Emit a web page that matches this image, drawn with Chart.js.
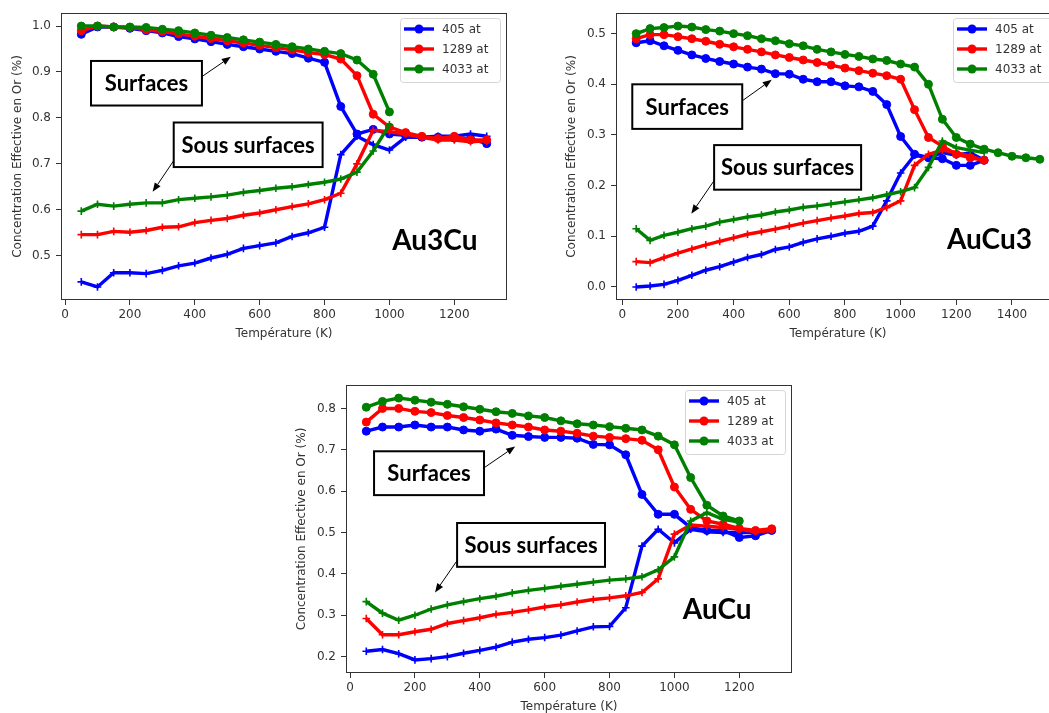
<!DOCTYPE html>
<html lang="fr">
<head>
<meta charset="UTF-8">
<title>Concentration effective en or</title>
<script src="https://cdn.jsdelivr.net/npm/chart.js"></script>
<style>
  html, body { margin: 0; padding: 0; background: #fff; }
  body { width: 1049px; height: 713px; overflow: hidden; position: relative; }
  canvas { position: absolute; }
</style>
</head>
<body>
<canvas id="au3cu" width="520" height="345" style="left:0;top:0"></canvas>
<canvas id="aucu3" width="530" height="345" style="left:540px;top:0"></canvas>
<canvas id="aucu" width="530" height="346" style="left:280px;top:372px"></canvas>

<script>
// temperatures (K), shared by every series; shorter series stop earlier
const T = [50, 100, 150, 200, 250, 300, 350, 400, 450, 500, 550, 600, 650, 700, 750,
           800, 850, 900, 950, 1000, 1050, 1100, 1150, 1200, 1250, 1300, 1350, 1400, 1450, 1500];

const sizes = ['405 at', '1289 at', '4033 at'];

// Au3Cu
const au3cuSurf405  = [0.982, 0.998, 0.998, 0.995, 0.990, 0.985, 0.977, 0.972, 0.966, 0.960, 0.955, 0.950, 0.945, 0.940, 0.930, 0.921, 0.825, 0.765, 0.775, 0.765, 0.762, 0.758, 0.758, 0.756, 0.755, 0.744];
const au3cuSub405   = [0.443, 0.432, 0.463, 0.463, 0.461, 0.468, 0.478, 0.484, 0.495, 0.503, 0.516, 0.522, 0.528, 0.542, 0.550, 0.562, 0.720, 0.760, 0.742, 0.730, 0.758, 0.758, 0.760, 0.760, 0.765, 0.760];
const au3cuSurf1289 = [0.990, 1.000, 0.998, 0.997, 0.992, 0.988, 0.983, 0.978, 0.973, 0.968, 0.963, 0.958, 0.953, 0.948, 0.942, 0.938, 0.928, 0.892, 0.808, 0.780, 0.768, 0.760, 0.755, 0.760, 0.752, 0.752];
const au3cuSub1289  = [0.546, 0.546, 0.553, 0.551, 0.555, 0.562, 0.563, 0.572, 0.577, 0.581, 0.588, 0.593, 0.600, 0.607, 0.613, 0.622, 0.636, 0.700, 0.773, 0.770, 0.765, 0.758, 0.752, 0.752, 0.748, 0.750];
const au3cuSurf4033 = [1.000, 1.000, 0.998, 0.998, 0.997, 0.993, 0.990, 0.985, 0.980, 0.975, 0.970, 0.965, 0.960, 0.955, 0.950, 0.945, 0.940, 0.926, 0.895, 0.813];
const au3cuSub4033  = [0.597, 0.612, 0.608, 0.612, 0.615, 0.615, 0.622, 0.625, 0.628, 0.632, 0.638, 0.642, 0.647, 0.650, 0.655, 0.660, 0.667, 0.682, 0.728, 0.785];

// AuCu3
const aucu3Surf405  = [0.482, 0.486, 0.476, 0.467, 0.458, 0.451, 0.445, 0.440, 0.434, 0.430, 0.421, 0.420, 0.410, 0.405, 0.405, 0.397, 0.395, 0.386, 0.360, 0.297, 0.262, 0.255, 0.253, 0.240, 0.240, 0.250];
const aucu3Sub405   = [0.000, 0.002, 0.005, 0.013, 0.023, 0.033, 0.040, 0.049, 0.058, 0.064, 0.074, 0.079, 0.088, 0.095, 0.100, 0.106, 0.110, 0.120, 0.170, 0.225, 0.260, 0.255, 0.265, 0.260, 0.265, 0.250];
const aucu3Surf1289 = [0.490, 0.498, 0.498, 0.494, 0.490, 0.485, 0.479, 0.474, 0.469, 0.464, 0.458, 0.453, 0.448, 0.443, 0.438, 0.432, 0.427, 0.422, 0.417, 0.410, 0.350, 0.295, 0.278, 0.262, 0.255, 0.250];
const aucu3Sub1289  = [0.050, 0.048, 0.058, 0.067, 0.075, 0.083, 0.090, 0.097, 0.104, 0.109, 0.114, 0.120, 0.126, 0.131, 0.136, 0.140, 0.145, 0.147, 0.157, 0.170, 0.240, 0.262, 0.270, 0.265, 0.258, 0.250];
const aucu3Surf4033 = [0.500, 0.510, 0.512, 0.515, 0.513, 0.508, 0.505, 0.500, 0.496, 0.490, 0.486, 0.480, 0.476, 0.469, 0.464, 0.459, 0.455, 0.450, 0.447, 0.440, 0.434, 0.400, 0.331, 0.295, 0.282, 0.272, 0.265, 0.258, 0.255, 0.252];
const aucu3Sub4033  = [0.115, 0.092, 0.102, 0.108, 0.115, 0.120, 0.128, 0.133, 0.138, 0.142, 0.148, 0.152, 0.157, 0.160, 0.164, 0.168, 0.172, 0.176, 0.182, 0.188, 0.196, 0.236, 0.288, 0.275, 0.270, 0.265];

// AuCu
const aucuSurf405  = [0.745, 0.755, 0.755, 0.760, 0.755, 0.755, 0.748, 0.745, 0.750, 0.735, 0.732, 0.730, 0.730, 0.728, 0.713, 0.712, 0.688, 0.592, 0.544, 0.544, 0.512, 0.505, 0.505, 0.488, 0.492, 0.505];
const aucuSub405   = [0.213, 0.217, 0.207, 0.192, 0.195, 0.200, 0.208, 0.215, 0.223, 0.235, 0.242, 0.246, 0.252, 0.262, 0.272, 0.273, 0.318, 0.467, 0.508, 0.475, 0.508, 0.502, 0.500, 0.500, 0.500, 0.505];
const aucuSurf1289 = [0.767, 0.800, 0.800, 0.793, 0.790, 0.783, 0.778, 0.772, 0.765, 0.760, 0.755, 0.748, 0.745, 0.740, 0.733, 0.730, 0.727, 0.723, 0.700, 0.610, 0.556, 0.528, 0.520, 0.510, 0.505, 0.509];
const aucuSub1289  = [0.292, 0.253, 0.253, 0.260, 0.266, 0.280, 0.287, 0.294, 0.302, 0.307, 0.313, 0.320, 0.325, 0.332, 0.338, 0.342, 0.347, 0.355, 0.388, 0.496, 0.518, 0.515, 0.512, 0.508, 0.502, 0.505];
const aucuSurf4033 = [0.803, 0.817, 0.825, 0.820, 0.815, 0.810, 0.804, 0.798, 0.792, 0.788, 0.782, 0.778, 0.770, 0.763, 0.760, 0.756, 0.752, 0.748, 0.733, 0.712, 0.633, 0.566, 0.540, 0.528];
const aucuSub4033  = [0.333, 0.305, 0.288, 0.300, 0.315, 0.325, 0.333, 0.340, 0.346, 0.354, 0.360, 0.365, 0.370, 0.375, 0.380, 0.385, 0.388, 0.393, 0.410, 0.441, 0.528, 0.548, 0.532, 0.525];

// tick labels
const xTicks13 = [0, 200, 400, 600, 800, 1000, 1200];
const xTicks2  = [0, 200, 400, 600, 800, 1000, 1200, 1400];
const yTicksAu3Cu = [0.5, 0.6, 0.7, 0.8, 0.9, 1.0];
const yTicksAuCu3 = [0.0, 0.1, 0.2, 0.3, 0.4, 0.5];
const yTicksAuCu  = [0.2, 0.3, 0.4, 0.5, 0.6, 0.7, 0.8];

const colors = ['#0000ff', '#ff0000', '#008000'];
const FONT = 'DejaVu Sans';
const INK = '#333';

function series(vals, color, surface, order) {
    return {
        data: vals.map((v, i) => ({ x: T[i], y: v })),
        borderColor: color,
        backgroundColor: color,
        borderWidth: 3.4,
        pointStyle: surface ? 'circle' : 'cross',
        pointRadius: surface ? 4 : 3.8,
        pointBorderWidth: surface ? 1 : 1.6,
        pointBackgroundColor: color,
        pointBorderColor: color,
        order: order,
        fill: false,
        tension: 0
    };
}

// matplotlib-like 5% margins around the data
function range(arrays, pad) {
    const all = [].concat(...arrays);
    const lo = Math.min(...all), hi = Math.max(...all);
    const m = (hi - lo) * pad;
    return [lo - m, hi + m];
}

function drawArrow(ctx, x1, y1, x2, y2) {
    const ang = Math.atan2(y2 - y1, x2 - x1);
    const L = 9, W = 3.5;
    const bx = x2 - L * Math.cos(ang), by = y2 - L * Math.sin(ang);
    ctx.beginPath();
    ctx.moveTo(x1, y1);
    ctx.lineTo(bx, by);
    ctx.stroke();
    ctx.beginPath();
    ctx.moveTo(x2, y2);
    ctx.lineTo(bx + W * Math.sin(ang), by - W * Math.cos(ang));
    ctx.lineTo(bx - W * Math.sin(ang), by + W * Math.cos(ang));
    ctx.closePath();
    ctx.fill();
}

// frame, legend, boxed notes with arrows and compound name
function extras(notes) {
    return {
        id: 'extras',
        afterDatasetsDraw(chart) {
            const { ctx, chartArea: a, scales: { x, y } } = chart;
            ctx.save();
            ctx.strokeStyle = INK;
            ctx.lineWidth = 1;
            ctx.strokeRect(a.left + 0.5, a.top + 0.5, a.width - 1, a.height - 1);

            // legend
            const lw = 100, lh = 64;
            const lx = a.right - 7 - lw, ly = a.top + 5;
            ctx.fillStyle = 'rgba(255,255,255,0.85)';
            ctx.strokeStyle = '#d5d5d5';
            ctx.beginPath();
            ctx.roundRect(lx + 0.5, ly + 0.5, lw, lh, 3);
            ctx.fill();
            ctx.stroke();
            ctx.font = '12px ' + FONT;
            ctx.textBaseline = 'middle';
            sizes.forEach((s, i) => {
                const ry = ly + 11 + i * 20;
                ctx.strokeStyle = colors[i];
                ctx.fillStyle = colors[i];
                ctx.lineWidth = 3.4;
                ctx.beginPath();
                ctx.moveTo(lx + 4, ry);
                ctx.lineTo(lx + 34, ry);
                ctx.stroke();
                ctx.beginPath();
                ctx.arc(lx + 19, ry, 4.5, 0, Math.PI * 2);
                ctx.fill();
                ctx.fillStyle = INK;
                ctx.fillText(s, lx + 42, ry + 1);
            });

            // boxed labels
            ctx.textAlign = 'center';
            notes.boxes.forEach(b => {
                const x1 = x.getPixelForValue(b.x0), x2 = x.getPixelForValue(b.x1);
                const y1 = y.getPixelForValue(b.y0), y2 = y.getPixelForValue(b.y1);
                ctx.fillStyle = '#fff';
                ctx.strokeStyle = '#000';
                ctx.lineWidth = 2;
                ctx.fillRect(x1, y1, x2 - x1, y2 - y1);
                ctx.strokeRect(x1, y1, x2 - x1, y2 - y1);
                ctx.fillStyle = '#000';
                ctx.font = 'bold 22px Lato';
                ctx.fillText(b.text, (x1 + x2) / 2, (y1 + y2) / 2 + 1);
                ctx.lineWidth = 1;
                ctx.fillStyle = '#000';
                drawArrow(ctx,
                    x.getPixelForValue(b.from[0]), y.getPixelForValue(b.from[1]),
                    x.getPixelForValue(b.to[0]), y.getPixelForValue(b.to[1]));
            });

            ctx.font = 'bold 28px Lato';
            ctx.fillStyle = '#000';
            ctx.fillText(notes.name, x.getPixelForValue(notes.nameAt[0]), y.getPixelForValue(notes.nameAt[1]));
            ctx.restore();
        }
    };
}

function makeChart(id, sets, xTicks, yTicks, digits, pad, notes) {
    const xr = range([T.slice(0, Math.max(...sets.map(s => s.length)))], 0.05);
    const yr = range(sets, 0.05);
    const datasets = [
        series(sets[0], colors[0], true, 3),
        series(sets[1], colors[0], false, 3),
        series(sets[2], colors[1], true, 2),
        series(sets[3], colors[1], false, 2),
        series(sets[4], colors[2], true, 1),
        series(sets[5], colors[2], false, 1)
    ];
    return new Chart(document.getElementById(id), {
        type: 'line',
        data: { datasets },
        options: {
            responsive: false,
            animation: false,
            layout: { padding: pad.layout },
            plugins: { legend: { display: false }, tooltip: { enabled: false } },
            scales: {
                x: {
                    type: 'linear',
                    min: xr[0], max: xr[1],
                    afterBuildTicks: s => { s.ticks = xTicks.map(v => ({ value: v })); },
                    afterFit: s => { s.height = 45; },
                    grid: { drawOnChartArea: false, drawTicks: true, tickLength: 5, color: INK },
                    border: { display: false },
                    ticks: { color: INK, font: { family: FONT, size: 12 }, padding: 3, maxRotation: 0,
                             callback: v => String(v) },
                    title: { display: true, text: 'Température (K)', color: INK, font: { family: FONT, size: 12 } }
                },
                y: {
                    type: 'linear',
                    min: yr[0], max: yr[1],
                    afterBuildTicks: s => { s.ticks = yTicks.map(v => ({ value: v })); },
                    afterFit: s => { s.width = pad.yWidth; },
                    grid: { drawOnChartArea: false, drawTicks: true, tickLength: 5, color: INK },
                    border: { display: false },
                    ticks: { color: INK, font: { family: FONT, size: 12 }, padding: 5,
                             callback: v => v.toFixed(digits) },
                    title: { display: true, text: 'Concentration Effective en Or (%)', color: INK, font: { family: FONT, size: 12 } }
                }
            }
        },
        plugins: [extras(notes)]
    });
}

makeChart('au3cu',
    [au3cuSurf405, au3cuSub405, au3cuSurf1289, au3cuSub1289, au3cuSurf4033, au3cuSub4033],
    xTicks13, yTicksAu3Cu, 1,
    { layout: { left: 7, top: 13, right: 13, bottom: 0 }, yWidth: 54 },
    {
        name: 'Au3Cu', nameAt: [1140, 0.532],
        boxes: [
            { text: 'Surfaces', x0: 80, x1: 422, y0: 0.924, y1: 0.827, from: [422, 0.890], to: [511, 0.933] },
            { text: 'Sous surfaces', x0: 335, x1: 794, y0: 0.790, y1: 0.693, from: [334, 0.706], to: [270, 0.639] }
        ]
    });

makeChart('aucu3',
    [aucu3Surf405, aucu3Sub405, aucu3Surf1289, aucu3Sub1289, aucu3Surf4033, aucu3Sub4033],
    xTicks2, yTicksAuCu3, 1,
    { layout: { left: 21, top: 13, right: 10, bottom: 0 }, yWidth: 55 },
    {
        name: 'AuCu3', nameAt: [1319, 0.092],
        boxes: [
            { text: 'Surfaces', x0: 36, x1: 431, y0: 0.400, y1: 0.312, from: [430, 0.367], to: [537, 0.409] },
            { text: 'Sous surfaces', x0: 330, x1: 858, y0: 0.280, y1: 0.192, from: [330, 0.210], to: [248, 0.1445] }
        ]
    });

makeChart('aucu',
    [aucuSurf405, aucuSub405, aucuSurf1289, aucuSub1289, aucuSurf4033, aucuSub4033],
    xTicks13, yTicksAuCu, 1,
    { layout: { left: 11, top: 13, right: 18, bottom: 0 }, yWidth: 55 },
    {
        name: 'AuCu', nameAt: [1132, 0.313],
        boxes: [
            { text: 'Surfaces', x0: 74, x1: 413, y0: 0.6964, y1: 0.5904, from: [416, 0.658], to: [509, 0.708] },
            { text: 'Sous surfaces', x0: 330, x1: 786, y0: 0.523, y1: 0.417, from: [329, 0.431], to: [262, 0.355] }
        ]
    });
</script>
</body>
</html>
